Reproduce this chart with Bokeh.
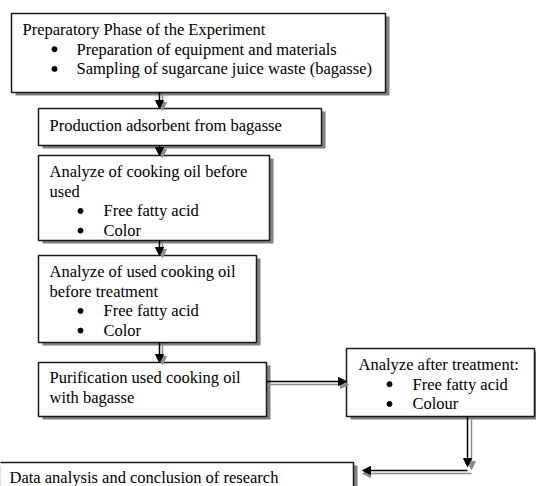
from bokeh.plotting import figure
from bokeh.models import Range1d, ColumnDataSource
from bokeh.core.properties import value
from bokeh.embed import file_html
from bokeh.resources import INLINE

# ---- content ----
step_titles = [
    ["Preparatory Phase of the Experiment"],
    ["Production adsorbent from bagasse"],
    ["Analyze of cooking oil before", "used"],
    ["Analyze of used cooking oil", "before treatment"],
    ["Purification used cooking oil", "with bagasse"],
    ["Analyze after treatment:"],
    ["Data analysis and conclusion of research"],
]
step_bullets = [
    ["Preparation of equipment and materials", "Sampling of sugarcane juice waste (bagasse)"],
    [],
    ["Free fatty acid", "Color"],
    ["Free fatty acid", "Color"],
    [],
    ["Free fatty acid", "Colour"],
    [],
]

# ---- layout (pixel coordinates of the page) ----
# left, top, right, bottom, text x, first line y, bullet x, bullet text x
layout = [
    (11, 13, 385, 92, 22, 29, 54, 76),
    (38, 108, 321, 145, 49, 125, 0, 0),
    (38, 155, 269, 240, 49, 171, 80, 103),
    (38, 255, 256, 342, 49, 271, 80, 103),
    (38, 362, 266, 416, 49, 377, 0, 0),
    (346, 348, 534, 416, 358, 364, 389, 412),
    (-5, 462, 353, 520, 9, 477, 0, 0),
]
LINE = 19.7
FONT = value("Liberation Serif")

W, H = 536, 486
p = figure(width=W, height=H, output_backend="svg", toolbar_location=None,
           x_range=Range1d(0, W), y_range=Range1d(H, 0), min_border=0)
p.axis.visible = False
p.grid.visible = False
p.outline_line_color = None
p.background_fill_color = "white"

# boxes with shadow
L = [b[0] for b in layout]; T = [b[1] for b in layout]
R = [b[2] for b in layout]; B = [b[3] for b in layout]
p.quad(left=[x + 4 for x in L], right=[x + 4 for x in R],
       top=[y + 3 for y in T], bottom=[y + 3 for y in B],
       fill_color="#808080", line_color=None)
p.quad(left=L, right=R, top=T, bottom=B, fill_color="white",
       line_color="#1a1a1a", line_width=1.5)

# texts
tx, ty, tt = [], [], []
bx, by = [], []
for i, (titles, bullets) in enumerate(zip(step_titles, step_bullets)):
    l, t, r, b, x0, y0, bxx, btx = layout[i]
    y = y0
    for s in titles:
        tx.append(x0); ty.append(y); tt.append(s); y += LINE
    for s in bullets:
        bx.append(bxx); by.append(y)
        tx.append(btx); ty.append(y); tt.append(s); y += LINE

p.text(x=tx, y=ty, text=tt, text_font=FONT, text_font_size="16.5px",
       text_baseline="middle", text_align="left", text_color="black")
p.scatter(x=bx, y=by, marker="circle", size=5, fill_color="black", line_color="black")

# arrows
segs = []    # (x0,y0,x1,y1,color)
heads = []   # (xs, ys, color)
GREY = "#8c8c8c"

def varrow(x, y0, y1, col, dx=0, dy=0):
    segs.append((x + dx, y0 + dy, x + dx, y1 - 7 + dy, col))
    heads.append(([x + dx, x - 4 + dx, x + 4 + dx], [y1 + dy, y1 - 8 + dy, y1 - 8 + dy], col))

def harrow(y, x0, x1, col, dx=0, dy=0):
    d = 1 if x1 > x0 else -1
    segs.append((x0 + dx, y + dy, x1 - d * 7 + dx, y + dy, col))
    heads.append(([x1 + dx, x1 - d * 8 + dx, x1 - d * 8 + dx], [y + dy, y - 4 + dy, y + 4 + dy], col))

vx = 159
pairs = [(92, 108), (145, 155), (240, 255), (342, 362)]
for (a, b) in pairs:
    varrow(vx, a, b, GREY, dx=3, dy=2)
for (a, b) in pairs:
    varrow(vx, a, b, "black")

harrow(381, 266, 346, GREY, dx=2, dy=3)
harrow(381, 266, 346, "black")

varrow(467, 416, 466, GREY, dx=4, dy=3)
harrow(470, 471, 362, GREY, dx=0, dy=3)
varrow(467, 416, 466, "black")
harrow(470, 467, 362, "black")

src = ColumnDataSource(dict(x0=[s[0] for s in segs], y0=[s[1] for s in segs],
                            x1=[s[2] for s in segs], y1=[s[3] for s in segs],
                            c=[s[4] for s in segs]))
p.segment(x0="x0", y0="y0", x1="x1", y1="y1", line_color="c", line_width=1.5, source=src)
p.patches(xs=[h[0] for h in heads], ys=[h[1] for h in heads],
          fill_color=[h[2] for h in heads], line_color=[h[2] for h in heads])

open("out.html", "w").write(file_html(p, INLINE))
